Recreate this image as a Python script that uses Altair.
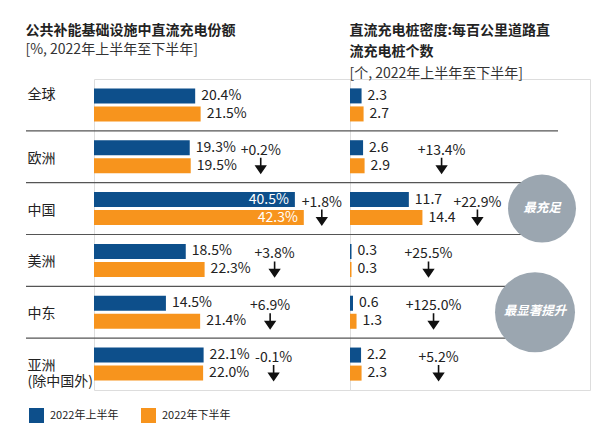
import altair as alt
import pandas as pd

# ---------------- data ----------------
regions = ["全球", "欧洲", "中国", "美洲", "中东", "亚洲(除中国外)"]
periods = ["2022年上半年", "2022年下半年"]
share_h1 = [20.4, 19.3, 40.5, 18.5, 14.5, 22.1]
share_h2 = [21.5, 19.5, 42.3, 22.3, 21.4, 22.0]
share_change = ["", "+0.2%", "+1.8%", "+3.8%", "+6.9%", "-0.1%"]
density_h1 = [2.3, 2.6, 11.7, 0.3, 0.6, 2.2]
density_h2 = [2.7, 2.9, 14.4, 0.3, 1.3, 2.3]
density_change = ["", "+13.4%", "+22.9%", "+25.5%", "+125.0%", "+5.2%"]
highlight_regions = ["中国", "中东"]
highlight_texts = ["最充足", "最显著提升"]

# ---------------- styles ----------------
FONT = "Noto Sans CJK SC"
BLUE = "#0D4F8B"
ORANGE = "#F7941D"
GREY = "#9BA6B0"
INK = "#222222"
ARROW = "M0,-1L0,0.2M-0.62,0.1L0.62,0.1L0,1Z"

rows = []
for i, r in enumerate(regions):
    rows.append(dict(region=r, period=periods[0], share=share_h1[i], density=density_h1[i]))
    rows.append(dict(region=r, period=periods[1], share=share_h2[i], density=density_h2[i]))
bars = pd.DataFrame(rows)
bars["share_label"] = bars["share"].map(lambda v: f"{v:.1f}%")
bars["density_label"] = bars["density"].map(lambda v: f"{v:.1f}")
bars["share_inside"] = bars["region"] == "中国"
bars["density_inside"] = False

chg = pd.DataFrame(dict(
    region=regions,
    share_text=share_change,
    density_text=density_change,
    share_top=[max(a, b) for a, b in zip(share_h1, share_h2)],
    density_top=[max(a, b) for a, b in zip(density_h1, density_h2)],
))
chg = chg[chg["share_text"] != ""]

seps = pd.DataFrame(dict(region=regions[1:]))

y_scale = alt.Scale(domain=regions, paddingInner=0, paddingOuter=0)
left_axis = alt.Axis(
    title=None, ticks=False, domain=False, grid=False,
    labelAlign="left", labelBaseline="middle", labelPadding=67,
    labelFont=FONT, labelFontSize=14, labelColor=INK, labelLimit=200,
    labelLineHeight=16,
    labelExpr="datum.value == '亚洲(除中国外)' ? ['亚洲', '(除中国外)'] : datum.value",
    labelOffset={"condition": {"test": "datum.value == '全球'", "value": -10}, "value": 2},
)


def ydef(axis, band=None):
    if band is None:
        return alt.Y("region:N", sort=regions, scale=y_scale, axis=axis)
    return alt.Y("region:N", sort=regions, scale=y_scale, axis=axis, bandPosition=band)


yoff = alt.YOffset("period:N", sort=periods,
                   scale=alt.Scale(domain=periods, paddingInner=0.1667, paddingOuter=0.52))
color = alt.Color(
    "period:N",
    scale=alt.Scale(domain=periods, range=[BLUE, ORANGE]),
    legend=alt.Legend(
        orient="none", legendX=-65, legendY=329, direction="horizontal", title=None,
        symbolType="square", symbolSize=225, symbolStrokeWidth=0, symbolOpacity=1,
        labelFont=FONT, labelFontSize=11, labelColor=INK, columnPadding=22, labelOffset=6,
    ),
)


def panel(field, label_field, inside_field, text_field, top_field, xmax, width, axis,
          dx_out, dx_in, sep_x, sep_x2, title):
    xs = alt.Scale(domain=[0, xmax])
    X = alt.X(f"{field}:Q", scale=xs, axis=None)
    base = alt.Chart(bars)
    sep = alt.Chart(seps).mark_rule(color="#555555", strokeWidth=1.2).encode(
        y=ydef(axis, 0), x=alt.value(sep_x), x2=alt.value(sep_x2))
    bar = base.mark_bar().encode(x=X, y=ydef(axis), yOffset=yoff, color=color)
    lab_out = base.transform_filter(f"!datum.{inside_field}").mark_text(
        align="left", baseline="middle", dx=6, font=FONT, fontSize=14, color=INK
    ).encode(x=X, y=ydef(axis), yOffset=yoff, text=f"{label_field}:N")
    lab_in = base.transform_filter(f"datum.{inside_field}").mark_text(
        align="right", baseline="middle", dx=-6, font=FONT, fontSize=14, color="white"
    ).encode(x=X, y=ydef(axis), yOffset=yoff, text=f"{label_field}:N")
    layers = [sep, bar, lab_out, lab_in]
    Xc = alt.X(f"{top_field}:Q", scale=xs, axis=None)
    for flt, dx in [("datum.region != '中国'", dx_out), ("datum.region == '中国'", dx_in)]:
        c = alt.Chart(chg).transform_filter(flt)
        layers.append(c.mark_text(
            align="center", baseline="middle", dx=dx, dy=-6, font=FONT, fontSize=14, color=INK
        ).encode(x=Xc, y=ydef(axis), text=f"{text_field}:N"))
        layers.append(c.mark_point(
            shape=ARROW, filled=True, fill="#111111", stroke="#111111", strokeWidth=1.6,
            size=225, opacity=1, xOffset=dx, yOffset=8.5
        ).encode(x=Xc, y=ydef(axis)))
    return alt.layer(*layers).properties(width=width, height=311, title=title)


left_title = alt.TitleParams(
    text="公共补能基础设施中直流充电份额", subtitle="[%, 2022年上半年至下半年]",
    anchor="start", font=FONT, fontSize=14, fontWeight="bold", color=INK,
    subtitleFont=FONT, subtitleFontSize=14, subtitleColor="#333333",
    subtitlePadding=5, offset=22, lineHeight=21, subtitleLineHeight=21)
right_title = alt.TitleParams(
    text=["直流充电桩密度:每百公里道路直", "流充电桩个数"], subtitle="[个, 2022年上半年至下半年]",
    anchor="start", font=FONT, fontSize=14, fontWeight="bold", color=INK,
    subtitleFont=FONT, subtitleFontSize=14, subtitleColor="#333333",
    subtitlePadding=8, offset=-2, lineHeight=21, subtitleLineHeight=21)

left = panel("share", "share_label", "share_inside", "share_text", "share_top", 256 / 4.96, 256,
             left_axis, 70, 18, -68, 256, left_title)
right = panel("density", "density_label", "density_inside", "density_text", "density_top",
              240 / 5.03, 240, None, 77, 55, 0, 208, right_title)

hl_df = pd.DataFrame(dict(region=highlight_regions, tag=highlight_texts))
yR = ydef(None)
circ1 = alt.Chart(hl_df).transform_filter("datum.region == '中国'")
circ2 = alt.Chart(hl_df).transform_filter("datum.region == '中东'")
hl = alt.layer(
    circ1.mark_circle(size=4624, color=GREY, opacity=1).encode(x=alt.value(192), y=yR),
    circ1.mark_text(color="white", font=FONT, fontSize=12.5, fontStyle="italic", fontWeight="bold",
                    dy=-1).encode(x=alt.value(192), y=yR, text="tag:N"),
    circ2.mark_circle(size=6400, color=GREY, opacity=1).encode(x=alt.value(185), y=yR),
    circ2.mark_text(color="white", font=FONT, fontSize=12.5, fontStyle="italic", fontWeight="bold",
                    dy=-1).encode(x=alt.value(185), y=yR, text="tag:N"),
)
right = alt.layer(right, hl).properties(width=240, height=311, title=right_title)

chart = alt.hconcat(left, right, spacing=0, bounds="flush").properties(
    padding={"left": 16, "top": 15, "right": 5, "bottom": 5}
).configure_view(stroke=None).configure(font=FONT)

chart.save("out.html", embed_options={"renderer": "svg", "actions": False})
